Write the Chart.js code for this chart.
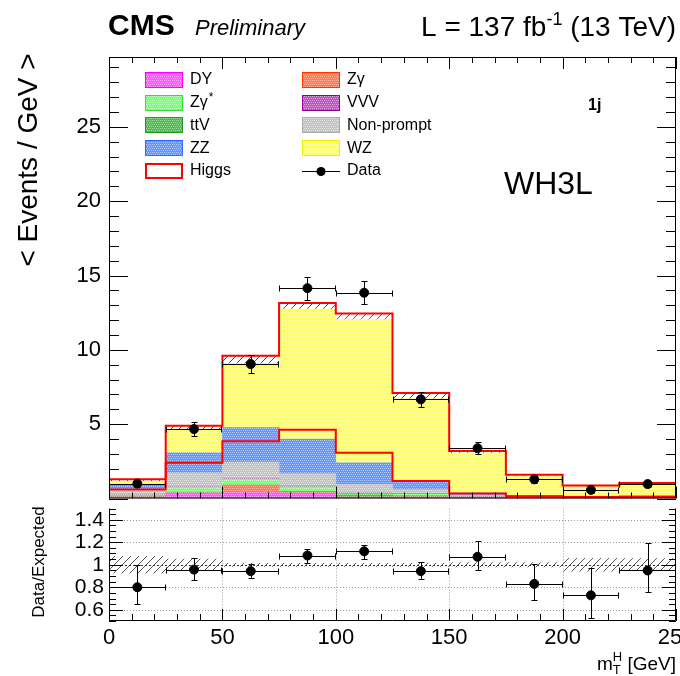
<!DOCTYPE html>
<html>
<head>
<meta charset="utf-8">
<script src="https://cdn.jsdelivr.net/npm/chart.js@4.4.0/dist/chart.umd.min.js"></script>
<style>
  html, body { margin: 0; padding: 0; background: #fff; overflow: hidden; }
  #wrap { position: relative; width: 720px; height: 676px; }
  #top { position: absolute; left: 0; top: 0; }
  #bottom { position: absolute; left: 0; top: 503px; }
</style>
</head>
<body>
<div id="wrap">
  <canvas id="top" width="720" height="504"></canvas>
  <canvas id="bottom" width="720" height="173"></canvas>
</div>
<script>
// m_T^H binning (GeV)
const binEdges = [0, 25, 50, 75, 100, 125, 150, 175, 200, 225, 250];

// expected events / GeV per process, stacked bottom to top
const dy        = [0.06, 0.28, 0.44, 0.33, 0.04, 0.04, 0.02, 0.01, 0.01, 0.01];
const zg        = [0.06, 0.10, 0.45, 0.12, 0.05, 0.08, 0.04, 0.02, 0.01, 0.01];
const ttv       = [0.05, 0.03, 0.03, 0.03, 0.15, 0.06, 0.03, 0.02, 0.01, 0.01];
const zgStar    = [0.06, 0.35, 0.38, 0.30, 0.08, 0.10, 0.03, 0.01, 0.01, 0.01];
const vvv       = [0.02, 0.05, 0.05, 0.05, 0.05, 0.04, 0.03, 0.05, 0.02, 0.03];
const nonPrompt = [0.30, 0.92, 1.10, 0.84, 0.58, 0.28, 0.07, 0.03, 0.02, 0.05];
const zz        = [0.40, 1.34, 2.32, 2.33, 1.45, 0.50, 0.16, 0.06, 0.04, 0.08];
const wz        = [0.20, 1.55, 4.31, 8.75, 9.64, 5.60, 2.67, 1.30, 0.68, 0.78];
const higgs     = [0.14, 0.27, 0.52, 0.40, 0.40, 0.40, 0.15, 0.10, 0.07, 0.06];
// signal shape drawn on its own (unstacked)
const higgsShape = [0.60, 2.40, 3.85, 4.62, 3.07, 1.17, 0.33, 0.15, 0.10, 0.10];

// observed
const dataCounts = [1.00, 4.67, 9.04, 14.15, 13.84, 6.67, 3.38, 1.29, 0.58, 0.97];
const dataErr    = [0.20, 0.47, 0.58, 0.78, 0.77, 0.52, 0.40, 0.26, 0.19, 0.23];

// data / expected
const ratio      = [0.80, 0.957, 0.943, 1.082, 1.119, 0.943, 1.071, 0.83, 0.728, 0.949];
const ratioErrUp = [0.20, 0.10, 0.067, 0.058, 0.056, 0.083, 0.139, 0.18, 0.242, 0.241];
const ratioErrDn = [0.15, 0.09, 0.063, 0.062, 0.065, 0.071, 0.114, 0.145, 0.198, 0.189];
const ratioBand  = [0.075, 0.05, 0.015, 0.015, 0.015, 0.015, 0.02, 0.02, 0.057, 0.055];

// axis ticks
const xTicks = [0, 50, 100, 150, 200, 250];
const yTicksTop = [5, 10, 15, 20, 25];
const yTicksRatio = [0.6, 0.8, 1, 1.2, 1.4];

const FONT = '"Liberation Sans", Arial, Helvetica, sans-serif';
const centers = binEdges.slice(0, -1).map((e, i) => (e + binEdges[i + 1]) / 2);

// ROOT-like dithered fill
function dither(base, light) {
  const c = document.createElement('canvas');
  c.width = 4; c.height = 4;
  const g = c.getContext('2d');
  g.fillStyle = base; g.fillRect(0, 0, 4, 4);
  g.fillStyle = light;
  g.fillRect(0, 0, 1, 1); g.fillRect(2, 0, 1, 1);
  g.fillRect(1, 2, 1, 1); g.fillRect(3, 2, 1, 1);
  return g.createPattern(c, 'repeat');
}

// diagonal "////" hatching for the uncertainty
function hatch(bg, line) {
  const c = document.createElement('canvas');
  c.width = 8; c.height = 8;
  const g = c.getContext('2d');
  if (bg) { g.fillStyle = bg; g.fillRect(0, 0, 8, 8); }
  g.strokeStyle = line; g.lineWidth = 1;
  g.beginPath();
  g.moveTo(0, 8); g.lineTo(8, 0);
  g.moveTo(-1, 1); g.lineTo(1, -1);
  g.moveTo(7, 9); g.lineTo(9, 7);
  g.stroke();
  return g.createPattern(c, 'repeat');
}

const procs = [
  { label: 'DY',         values: dy,        fill: dither('#ff55ff', '#ffb3ff'), edge: '#ff00ff' },
  { label: 'Zγ',         values: zg,        fill: dither('#ff7a55', '#ffbba8'), edge: '#ff3300' },
  { label: 'ttV',        values: ttv,       fill: dither('#55b855', '#a3dca3'), edge: '#229922' },
  { label: 'Zγ*',        values: zgStar,    fill: dither('#77ff77', '#c4ffc4'), edge: '#33dd33' },
  { label: 'VVV',        values: vvv,       fill: dither('#bb55bb', '#e0a8e0'), edge: '#990099' },
  { label: 'Non-prompt', values: nonPrompt, fill: dither('#c2c2c2', '#e6e6e6'), edge: '#aaaaaa' },
  { label: 'ZZ',         values: zz,        fill: dither('#6495ff', '#b5ceff'), edge: '#3366ff' },
  { label: 'WZ',         values: wz,        fill: dither('#ffff55', '#ffffb0'), edge: '#eeee00' }
];

const total = centers.map((_, i) =>
  procs.reduce((s, p) => s + p.values[i], 0) + higgs[i]);

const barDatasets = procs.map(p => ({
  type: 'bar',
  label: p.label,
  data: centers.map((x, i) => ({ x, y: p.values[i] })),
  backgroundColor: p.fill,
  borderWidth: 0,
  barPercentage: 1,
  categoryPercentage: 1,
  order: 5
}));

barDatasets.push({
  type: 'bar',
  label: 'Higgs',
  data: centers.map((x, i) => ({ x, y: higgs[i] })),
  backgroundColor: hatch('#ffffff', '#555555'),
  borderWidth: 0,
  barPercentage: 1,
  categoryPercentage: 1,
  order: 5
});

// histogram outline: one point per bin edge, flat across each bin
function stepData(values) {
  return binEdges.map((x, i) => ({ x, y: values[Math.max(0, i - 1)] }));
}

const outlineSet = {
  type: 'line', label: 'total', stack: 'outline',
  data: stepData(total), stepped: 'after',
  borderColor: '#ff0000', borderWidth: 2, pointRadius: 0, fill: false, order: 2
};
const shapeSet = {
  type: 'line', label: 'Higgs shape', stack: 'shape',
  data: stepData(higgsShape), stepped: 'after',
  borderColor: '#ff0000', borderWidth: 2, pointRadius: 0, fill: false, order: 1
};
const dataSet = {
  type: 'line', label: 'Data', stack: 'obs', showLine: false,
  data: centers.map((x, i) => ({ x, y: dataCounts[i] })),
  pointRadius: 4.5, pointBackgroundColor: '#000', pointBorderColor: '#000', order: 0,
  errUp: dataErr, errDown: dataErr
};

// error bars with end caps, horizontal extent = bin width
function drawErrors(chart) {
  const { ctx } = chart;
  const xs = chart.scales.x, ys = chart.scales.y;
  chart.data.datasets.forEach(ds => {
    if (!ds.errUp) return;
    ctx.save();
    ctx.strokeStyle = '#000';
    ctx.lineWidth = 1;
    ds.data.forEach((p, i) => {
      const px = Math.round(xs.getPixelForValue(p.x)) + 0.5;
      const py = Math.round(ys.getPixelForValue(p.y)) + 0.5;
      const x0 = Math.round(xs.getPixelForValue(binEdges[i])) + 0.5;
      const x1 = Math.round(xs.getPixelForValue(binEdges[i + 1])) - 0.5;
      const yt = Math.round(ys.getPixelForValue(p.y + ds.errUp[i])) + 0.5;
      const yb = Math.round(ys.getPixelForValue(p.y - ds.errDown[i])) + 0.5;
      ctx.beginPath();
      ctx.moveTo(x0, py); ctx.lineTo(x1, py);
      ctx.moveTo(px, yt); ctx.lineTo(px, yb);
      ctx.moveTo(x0, py - 3); ctx.lineTo(x0, py + 3);
      ctx.moveTo(x1, py - 3); ctx.lineTo(x1, py + 3);
      ctx.moveTo(px - 3, yt); ctx.lineTo(px + 3, yt);
      ctx.moveTo(px - 3, yb); ctx.lineTo(px + 3, yb);
      ctx.stroke();
    });
    ctx.restore();
  });
}

// ticks pointing into the frame
function drawTicks(ctx, scale, area, from, to, step, isMajor, lenMajor, lenMinor, sides) {
  ctx.beginPath();
  const n = Math.round((to - from) / step);
  for (let k = 0; k <= n; k++) {
    const v = from + k * step;
    const len = isMajor(k, v) ? lenMajor : lenMinor;
    const p = Math.round(scale.getPixelForValue(v)) + 0.5;
    if (sides.includes('bottom')) { ctx.moveTo(p, area.bottom); ctx.lineTo(p, area.bottom - len); }
    if (sides.includes('top'))    { ctx.moveTo(p, area.top); ctx.lineTo(p, area.top + len); }
    if (sides.includes('left'))   { ctx.moveTo(area.left, p); ctx.lineTo(area.left + len, p); }
    if (sides.includes('right'))  { ctx.moveTo(area.right, p); ctx.lineTo(area.right - len, p); }
  }
  ctx.stroke();
}

function legendLabel(ctx, text, x, y) {
  ctx.font = `16px ${FONT}`;
  ctx.textBaseline = 'middle';
  ctx.textAlign = 'left';
  if (text.endsWith('*')) {
    const base = text.slice(0, -1);
    ctx.fillText(base, x, y);
    const w = ctx.measureText(base).width;
    ctx.font = `12px ${FONT}`;
    ctx.fillText('*', x + w + 1, y - 5);
  } else {
    ctx.fillText(text, x, y);
  }
}

const topPlugin = {
  id: 'topDecor',
  afterDatasetsDraw(chart) { drawErrors(chart); },
  afterDraw(chart) {
    const { ctx, chartArea: a } = chart;
    const xs = chart.scales.x, ys = chart.scales.y;
    ctx.save();
    ctx.strokeStyle = '#000';
    ctx.lineWidth = 1;
    ctx.strokeRect(a.left + 0.5, a.top + 0.5, a.right - a.left - 1, a.bottom - a.top - 1);
    drawTicks(ctx, ys, a, 0, 29, 1, (k) => k % 5 === 0, 19, 10, ['left', 'right']);
    drawTicks(ctx, xs, a, 0, 250, 10, (k) => k % 5 === 0, 12, 6, ['top', 'bottom']);

    // header
    ctx.fillStyle = '#000';
    ctx.textBaseline = 'alphabetic';
    ctx.textAlign = 'left';
    ctx.font = `bold 30px ${FONT}`;
    ctx.fillText('CMS', 108, 35);
    ctx.font = `italic 22px ${FONT}`;
    ctx.fillText('Preliminary', 195, 35);
    ctx.font = `28px ${FONT}`;
    const s1 = 'L = 137 fb', s3 = ' (13 TeV)';
    const w1 = ctx.measureText(s1).width, w3 = ctx.measureText(s3).width;
    ctx.font = `18px ${FONT}`;
    const w2 = ctx.measureText('-1').width;
    let x = 676 - (w1 + w2 + w3);
    ctx.font = `28px ${FONT}`;
    ctx.fillText(s1, x, 36);
    ctx.font = `18px ${FONT}`;
    ctx.fillText('-1', x + w1, 25);
    ctx.font = `28px ${FONT}`;
    ctx.fillText(s3, x + w1 + w2, 36);

    // axis title
    ctx.save();
    ctx.translate(29, 160);
    ctx.rotate(-Math.PI / 2);
    ctx.textAlign = 'center';
    ctx.textBaseline = 'middle';
    ctx.font = `28px ${FONT}`;
    ctx.fillText('< Events / GeV >', 0, 0);
    ctx.restore();

    // category labels
    ctx.font = `bold 16px ${FONT}`;
    ctx.fillText('1j', 588, 110);
    ctx.font = `32px ${FONT}`;
    ctx.fillText('WH3L', 504, 194);

    // legend
    const byLabel = {};
    procs.forEach(p => { byLabel[p.label] = p; });
    const cols = [
      { boxX: 145, textX: 190, items: ['DY', 'Zγ*', 'ttV', 'ZZ', 'Higgs'] },
      { boxX: 302, textX: 347, items: ['Zγ', 'VVV', 'Non-prompt', 'WZ', 'Data'] }
    ];
    cols.forEach(col => {
      col.items.forEach((name, r) => {
        const cy = 80 + r * 22.7;
        const top = Math.round(cy - 8);
        if (name === 'Data') {
          ctx.strokeStyle = '#000';
          ctx.lineWidth = 1;
          ctx.beginPath();
          ctx.moveTo(col.boxX, Math.round(cy) + 0.5);
          ctx.lineTo(col.boxX + 38, Math.round(cy) + 0.5);
          ctx.stroke();
          ctx.fillStyle = '#000';
          ctx.beginPath();
          ctx.arc(col.boxX + 19, Math.round(cy) + 0.5, 4.5, 0, Math.PI * 2);
          ctx.fill();
        } else if (name === 'Higgs') {
          ctx.fillStyle = '#fff';
          ctx.fillRect(col.boxX, top, 38, 16);
          ctx.strokeStyle = '#ff0000';
          ctx.lineWidth = 2;
          ctx.strokeRect(col.boxX + 1, top + 1, 36, 14);
        } else {
          const p = byLabel[name];
          ctx.fillStyle = p.fill;
          ctx.fillRect(col.boxX, top, 38, 16);
          ctx.strokeStyle = p.edge;
          ctx.lineWidth = 1;
          ctx.strokeRect(col.boxX + 0.5, top + 0.5, 37, 15);
        }
        ctx.fillStyle = '#000';
        legendLabel(ctx, name, col.textX, cy);
      });
    });
    ctx.restore();
  }
};

const topChart = new Chart(document.getElementById('top'), {
  type: 'bar',
  data: { datasets: [...barDatasets, outlineSet, shapeSet, dataSet] },
  options: {
    responsive: false,
    animation: false,
    events: [],
    layout: { padding: { left: 0, right: 44, top: 57, bottom: 1 } },
    plugins: { legend: { display: false }, tooltip: { enabled: false } },
    scales: {
      x: {
        type: 'linear', min: 0, max: 250, offset: false, stacked: true, display: false,
        afterFit: s => { s.paddingLeft = 0; s.paddingRight = 0; }
      },
      y: {
        type: 'linear', min: 0, max: 29.7, stacked: true,
        grid: { display: false, drawTicks: false },
        border: { display: false },
        afterBuildTicks: s => { s.ticks = yTicksTop.map(v => ({ value: v })); },
        ticks: { color: '#000', padding: 8, autoSkip: false, font: { family: FONT, size: 22 }, callback: v => String(v) },
        afterFit: s => { s.width = 109; s.paddingTop = 0; s.paddingBottom = 0; }
      }
    }
  },
  plugins: [topPlugin]
});

const bottomPlugin = {
  id: 'bottomDecor',
  beforeDatasetsDraw(chart) {
    const { ctx, chartArea: a } = chart;
    const xs = chart.scales.x, ys = chart.scales.y;
    ctx.save();
    ctx.lineWidth = 1;
    ctx.strokeStyle = '#9a9a9a';
    ctx.setLineDash([1, 2]);
    ctx.beginPath();
    yTicksRatio.forEach(v => {
      if (v === 1) return;
      const p = Math.round(ys.getPixelForValue(v)) + 0.5;
      ctx.moveTo(a.left, p); ctx.lineTo(a.right, p);
    });
    xTicks.slice(1, -1).forEach(v => {
      const p = Math.round(xs.getPixelForValue(v)) + 0.5;
      ctx.moveTo(p, a.top); ctx.lineTo(p, a.bottom);
    });
    ctx.stroke();
    ctx.restore();
  },
  afterDatasetsDraw(chart) {
    const { ctx, chartArea: a } = chart;
    const ys = chart.scales.y;
    ctx.save();
    ctx.strokeStyle = '#333';
    ctx.setLineDash([2, 2]);
    const p = Math.round(ys.getPixelForValue(1)) + 0.5;
    ctx.beginPath(); ctx.moveTo(a.left, p); ctx.lineTo(a.right, p); ctx.stroke();
    ctx.restore();
    drawErrors(chart);
  },
  afterDraw(chart) {
    const { ctx, chartArea: a } = chart;
    const xs = chart.scales.x, ys = chart.scales.y;
    ctx.save();
    ctx.strokeStyle = '#000';
    ctx.lineWidth = 1;
    // frame without the top edge: the upper panel's bottom line sits right above
    ctx.beginPath();
    ctx.moveTo(a.left + 0.5, a.top);
    ctx.lineTo(a.left + 0.5, a.bottom - 0.5);
    ctx.lineTo(a.right - 0.5, a.bottom - 0.5);
    ctx.lineTo(a.right - 0.5, a.top);
    ctx.stroke();
    drawTicks(ctx, ys, a, 0.5, 1.5, 0.05, (k) => k % 4 === 2, 14, 7, ['left', 'right']);
    drawTicks(ctx, xs, a, 0, 250, 10, (k) => k % 5 === 0, 12, 7, ['bottom']);

    ctx.fillStyle = '#000';
    // y title
    ctx.save();
    ctx.translate(39, 59);
    ctx.rotate(-Math.PI / 2);
    ctx.textAlign = 'center';
    ctx.textBaseline = 'middle';
    ctx.font = `17px ${FONT}`;
    ctx.fillText('Data/Expected', 0, 0);
    ctx.restore();

    // x title: m_T^H [GeV]
    ctx.textBaseline = 'alphabetic';
    ctx.textAlign = 'left';
    const big = `19px ${FONT}`, small = `13px ${FONT}`;
    ctx.font = big;
    const wm = ctx.measureText('m').width;
    const wg = ctx.measureText(' [GeV]').width;
    ctx.font = small;
    const ws = Math.max(ctx.measureText('T').width, ctx.measureText('H').width);
    const base = 167;
    let x = 676 - (wm + ws + wg);
    ctx.font = big; ctx.fillText('m', x, base);
    ctx.font = small;
    ctx.fillText('H', x + wm, base - 9);
    ctx.fillText('T', x + wm, base + 4);
    ctx.font = big; ctx.fillText(' [GeV]', x + wm + ws, base);
    ctx.restore();
  }
};

const bottomChart = new Chart(document.getElementById('bottom'), {
  type: 'bar',
  data: {
    datasets: [
      {
        type: 'bar', label: 'Uncertainty',
        data: centers.map((x, i) => ({ x, y: [1 - ratioBand[i], 1 + ratioBand[i]] })),
        backgroundColor: hatch(null, '#555555'),
        borderWidth: 0, barPercentage: 1, categoryPercentage: 1, order: 3
      },
      {
        type: 'line', label: 'Data/Expected', showLine: false,
        data: centers.map((x, i) => ({ x, y: ratio[i] })),
        pointRadius: 4.5, pointBackgroundColor: '#000', pointBorderColor: '#000', order: 0,
        errUp: ratioErrUp, errDown: ratioErrDn
      }
    ]
  },
  options: {
    responsive: false,
    animation: false,
    events: [],
    layout: { padding: { left: 0, right: 44, top: 0, bottom: 0 } },
    plugins: { legend: { display: false }, tooltip: { enabled: false } },
    scales: {
      x: {
        type: 'linear', min: 0, max: 250, offset: false,
        grid: { display: false, drawTicks: false },
        border: { display: false },
        afterBuildTicks: s => { s.ticks = xTicks.map(v => ({ value: v })); },
        ticks: { color: '#000', padding: 4, maxRotation: 0, autoSkip: false, font: { family: FONT, size: 22 }, callback: v => String(v) },
        afterFit: s => { s.height = 55; s.paddingLeft = 0; s.paddingRight = 0; }
      },
      y: {
        type: 'linear', min: 0.5, max: 1.5,
        grid: { display: false, drawTicks: false },
        border: { display: false },
        afterBuildTicks: s => { s.ticks = yTicksRatio.map(v => ({ value: v })); },
        ticks: { color: '#000', padding: 5, autoSkip: false, font: { family: FONT, size: 21 }, callback: v => String(v) },
        afterFit: s => { s.width = 109; s.paddingTop = 0; s.paddingBottom = 0; }
      }
    }
  },
  plugins: [bottomPlugin]
});
</script>
</body>
</html>
